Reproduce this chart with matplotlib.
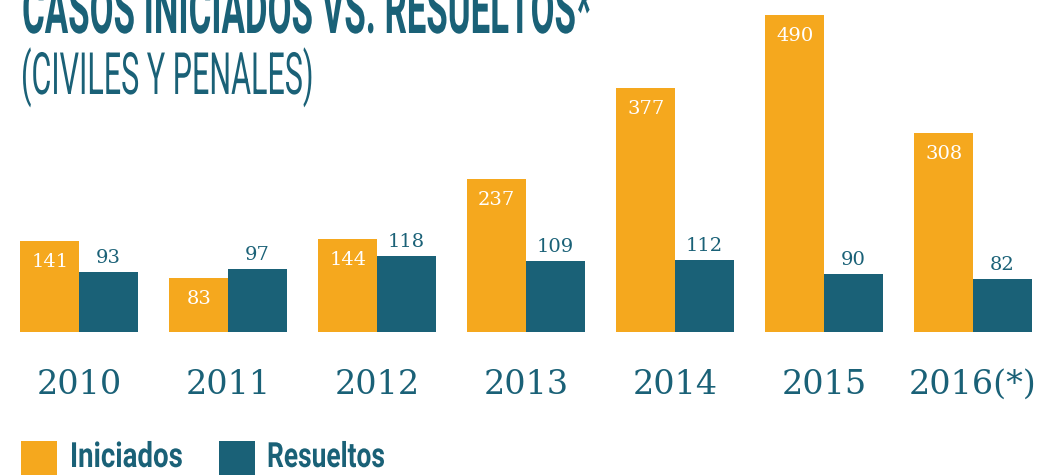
import matplotlib
matplotlib.use("Agg")
import matplotlib.pyplot as plt
from matplotlib.patches import Rectangle
from matplotlib.patheffects import AbstractPathEffect
from matplotlib.transforms import Affine2D
import numpy as np

years = ["2010", "2011", "2012", "2013", "2014", "2015", "2016(*)"]
iniciados = [141, 83, 144, 237, 377, 490, 308]
resueltos = [93, 97, 118, 109, 112, 90, 82]

orange = "#F5A81E"
teal = "#1A6177"
sans = ["Roboto", "DejaVu Sans"]
slab = ["DejaVu Serif"]

W, H = 1043, 477
fig = plt.figure(figsize=(W / 100, H / 100), dpi=100)


class Squeeze(AbstractPathEffect):
    # narrows the glyphs horizontally (no condensed font installed)
    def __init__(self, sx):
        super().__init__()
        self.sx = sx

    def draw_path(self, renderer, gc, tpath, affine, rgbFace=None):
        renderer.draw_path(gc, tpath, Affine2D().scale(self.sx, 1) + affine, rgbFace)


def squeeze_to(t, width_px):
    r = fig.canvas.get_renderer()
    t.set_path_effects([Squeeze(width_px / t.get_window_extent(r).width)])


# axes: baseline at y=333px, full width
ax = fig.add_axes([0, (H - 333) / H, 1, 333 / H])
x = np.arange(len(years))
w = 0.393
ax.bar(x - w / 2, iniciados, w, color=orange, linewidth=0)
ax.bar(x + w / 2, resueltos, w, color=teal, linewidth=0)
ax.set_xlim(-79 / 149, (W - 79) / 149)
ax.set_ylim(0, 333 / 0.6469)
ax.axis("off")

px = 514.8 / 333  # data units per pixel
for i in range(len(years)):
    ax.text(x[i] - w / 2, iniciados[i] - 20 * px, str(iniciados[i]),
            ha="center", va="center", color="white", fontsize=14, family=slab)
    ax.text(x[i] + w / 2, resueltos[i] + 15 * px, str(resueltos[i]),
            ha="center", va="center", color=teal, fontsize=14, family=slab)
    fig.text((79 + 149 * i) / W, 1 - 385 / H, years[i], ha="center", va="center",
             color=teal, fontsize=24, family=slab)

# title and subtitle
t1 = fig.text(22 / W, 1 - 34 / H, "CASOS INICIADOS VS. RESUELTOS*", ha="left",
              va="baseline", color=teal, fontsize=50, fontweight="bold", family=sans)
squeeze_to(t1, 570)
t2 = fig.text(21 / W, 1 - 95 / H, "(CIVILES Y PENALES)", ha="left", va="baseline",
              color=teal, fontsize=42, fontweight="normal", family=sans)
squeeze_to(t2, 293)

# legend
for x0, c, lab, tx, tw in [(21, orange, "Iniciados", 70, 113),
                           (219, teal, "Resueltos", 267, 118)]:
    fig.patches.append(Rectangle((x0 / W, 1 - 476 / H), 36 / W, 34 / H,
                                 transform=fig.transFigure, color=c, linewidth=0))
    t = fig.text(tx / W, 1 - 468 / H, lab, ha="left", va="baseline", color=teal,
                 fontsize=25, fontweight="bold", family=sans)
    squeeze_to(t, tw)

fig.savefig("out.png", dpi=100)
